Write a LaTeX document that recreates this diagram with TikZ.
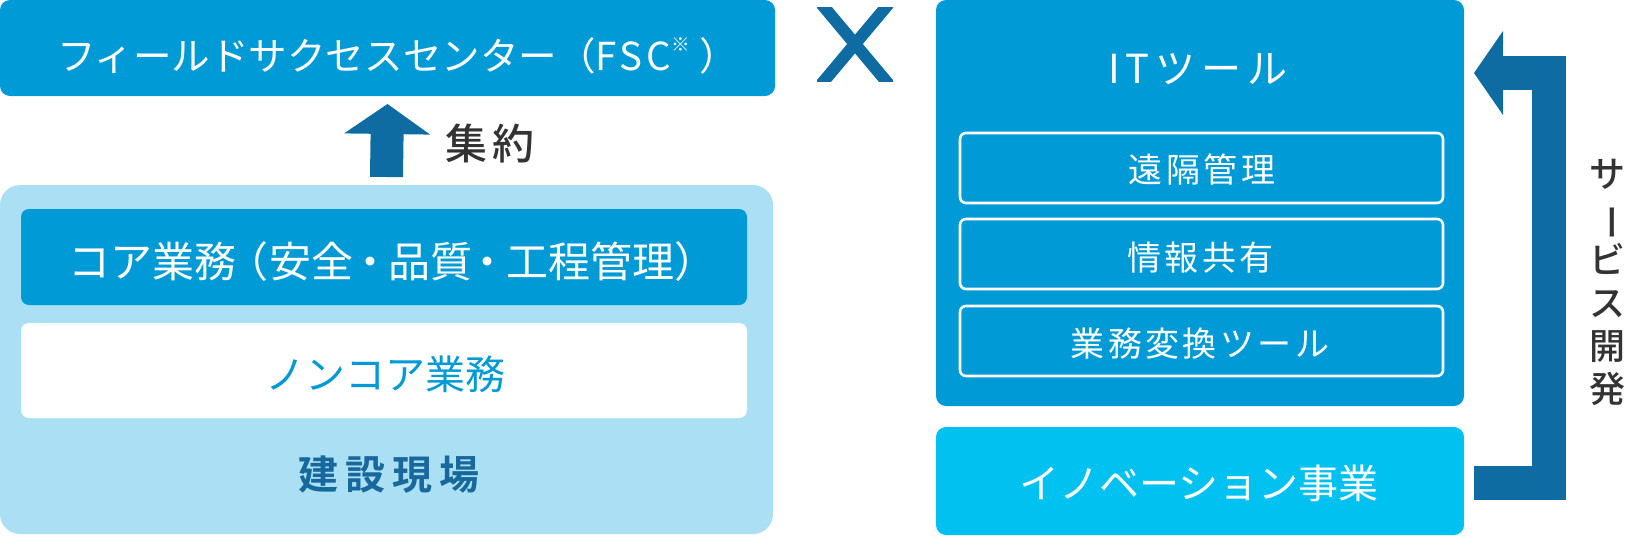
\documentclass[tikz,border=0pt]{standalone}
\usepackage{fontspec}
\usetikzlibrary{arrows.meta}
\newfontfamily\jp{Noto Sans CJK JP}
\IfFontExistsTF{Noto Sans CJK JP Medium}{\newfontfamily\jpm{Noto Sans CJK JP Medium}}{\newfontfamily\jpm[FakeBold=0.6]{Noto Sans CJK JP}}
\IfFontExistsTF{Noto Sans CJK JP Bold}{\newfontfamily\jpb{Noto Sans CJK JP Bold}}{\newfontfamily\jpb[FakeBold=1.5]{Noto Sans CJK JP}}
\newcommand\jpsize[1]{\fontsize{#1}{#1}\selectfont}
\definecolor{mblue}{HTML}{009BD6}
\definecolor{dblue}{HTML}{0E6CA2}
\definecolor{lblue}{HTML}{ABDFF3}
\definecolor{cyanbox}{HTML}{00C1EF}
\definecolor{darktxt}{HTML}{333333}
\definecolor{sitetxt}{HTML}{16689D}
\begin{document}
\begin{tikzpicture}[x=0.75pt,y=-0.75pt,
  box/.style={rectangle,inner sep=0pt,outer sep=0pt,draw=none},
  lbl/.style={inner sep=0pt,outer sep=0pt,text=white},
  tool/.style={box,draw=white,line width=1.9pt,rounded corners=4.5pt,minimum width=362.25pt,minimum height=52.5pt},
  tooltxt/.style={lbl,font={\jp\jpsize{25.5pt}\addfontfeatures{LetterSpace=10}}},
  fatup/.style={draw=dblue,line width=24.75pt,-{Triangle[length=22.5pt,width=64.5pt,line width=0pt]}},
  fatback/.style={draw=dblue,line width=25.5pt,line join=miter,-{Triangle[length=21.75pt,width=63pt,line width=0pt]}}
]
\useasboundingbox (0,0) rectangle (1632,536);

% left side
\node[box,fill=mblue,rounded corners=7.5pt,minimum width=581.25pt,minimum height=72pt] (fsc) at (387.5,48) {};
\node[lbl,anchor=base west,font={\jp\jpsize{28.9pt}}] (fsct) at (57,70)
  {フィールドサクセスセンター（{\addfontfeatures{LetterSpace=10}FSC}\raisebox{14pt}{\jpsize{14pt}※}\kern7pt）};

\node[box,fill=lblue,rounded corners=15pt,minimum width=579.75pt,minimum height=261.75pt] (site) at (386.5,359.5) {};
\node[box,fill=mblue,rounded corners=6pt,minimum width=544.5pt,minimum height=72pt] (core) at (384,257) {};
\node[lbl,font={\jp\jpsize{31.5pt}}] (coret) at (392,261.5)
  {コア業務\kern-7.5pt（\kern1.5pt安全\kern-3.75pt・\kern-2.25pt品質\kern-3.75pt・\kern-2.25pt工程管理）};
\node[box,fill=white,rounded corners=6pt,minimum width=544.5pt,minimum height=71.25pt] (noncore) at (384,370.5) {};
\node[lbl,text=mblue,font={\jp\jpsize{30pt}}] (noncoret) at (385,374.5) {ノンコア業務};
\node[lbl,text=sitetxt,font={\jpb\jpsize{30pt}\addfontfeatures{LetterSpace=17.5}}] (sitet) at (388.5,475) {建設現場};

\draw[fatup] ([yshift=6pt]site.north) -- ([yshift=-6pt]fsc.south);
\node[lbl,text=darktxt,font={\jpm\jpsize{31.5pt}\addfontfeatures{LetterSpace=14}}] (shuyaku) at (490,144) {集約};

% cross mark
\begin{scope}
\clip (817,7) rectangle (893,81);
\draw[dblue,line width=9pt] (817.8,-0.4) -- (892.2,88.4) (892.2,-0.4) -- (817.8,88.4);
\end{scope}

% right side
\node[box,fill=mblue,rounded corners=7.5pt,minimum width=396pt,minimum height=304.5pt] (it) at (1200,203) {};
\node[lbl,font={\jp\jpsize{30pt}\addfontfeatures{LetterSpace=15}}] (itt) at (1198,69) {ITツール};
\node[tool] (t1) at (1201.5,168) {};
\node[tooltxt] (t1t) at (1202,170) {遠隔管理};
\node[tool] (t2) at (1201.5,254) {};
\node[tooltxt] (t2t) at (1200.5,258) {情報共有};
\node[tool] (t3) at (1201.5,341) {};
\node[tooltxt] (t3t) at (1200,344) {業務変換ツール};

\node[box,fill=cyanbox,rounded corners=7.5pt,minimum width=396pt,minimum height=81pt] (innov) at (1200,481) {};
\node[lbl,font={\jp\jpsize{30pt}}] (innovt) at (1199,483.5) {イノベーション事業};

\path (innov.east) ++(10,1.5) coordinate (st);
\coordinate (c1) at (1549,482.5);
\coordinate (c2) at (1549,73);
\path (it.east |- c2) ++(10,0) coordinate (tip);
\draw[fatback] (st) -- (c1) -- (c2) -- (tip);

\node[lbl,text=darktxt,align=center,font={\jpm\fontsize{27pt}{32.25pt}\selectfont}] (svc) at (1607,282.5)
  {サ\\\rotatebox[origin=c]{-90}{ー}\\ビ\\ス\\開\\発};
\end{tikzpicture}
\end{document}
